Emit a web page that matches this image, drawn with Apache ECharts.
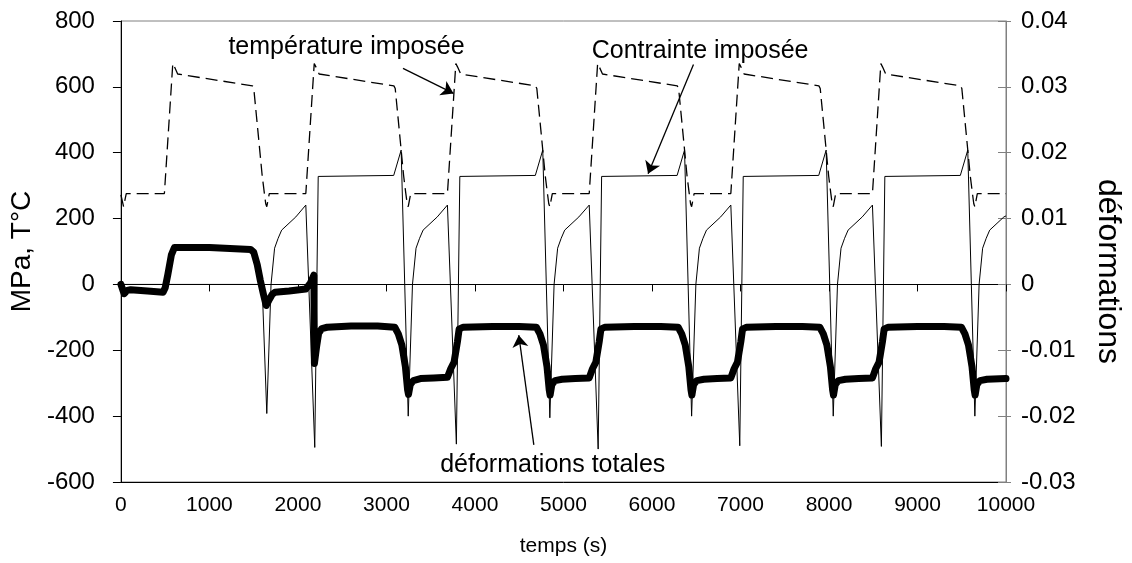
<!DOCTYPE html>
<html>
<head>
<meta charset="utf-8">
<script src="https://cdn.jsdelivr.net/npm/echarts@6/dist/echarts.min.js"></script>
<style>
  html, body { margin: 0; padding: 0; background: #fff; }
  #chart { width: 1132px; height: 563px; }
</style>
</head>
<body>
<div id="chart"></div>
<script>
// [temps (s), valeur]
const temperature = [
  [0, 272], [30, 236], [60, 276], [491, 276], [586, 671], [606, 660], [641, 639], [1486, 603], [1501, 595], [1546, 470], [1596, 330], [1621, 276], [1636, 245], [1648, 236], [1676, 276],
  [2089, 276], [2184, 671], [2204, 660], [2239, 639], [3084, 603], [3099, 595], [3144, 470], [3194, 330], [3219, 276], [3234, 245], [3246, 236], [3274, 276],
  [3689, 276], [3784, 671], [3804, 660], [3839, 639], [4684, 603], [4699, 595], [4744, 470], [4794, 330], [4819, 276], [4834, 245], [4846, 236], [4874, 276],
  [5291, 276], [5386, 671], [5406, 660], [5441, 639], [6286, 603], [6301, 595], [6346, 470], [6396, 330], [6421, 276], [6436, 245], [6448, 236], [6476, 276],
  [6891, 276], [6986, 671], [7006, 660], [7041, 639], [7886, 603], [7901, 595], [7946, 470], [7996, 330], [8021, 276], [8036, 245], [8048, 236], [8076, 276],
  [8491, 276], [8586, 671], [8606, 660], [8641, 639], [9486, 603], [9501, 595], [9546, 470], [9596, 330], [9621, 276], [9636, 245], [9648, 236], [9676, 276], [10000, 276]
];

const contrainte = [
  [0, 0], [1595, 0], [1648, -392], [1696, 0], [1736, 110], [1776, 140], [1816, 165], [1976, 205],
  [2089, 241], [2190, -495], [2229, 328], [3082, 331], [3166, 408], [3246, -400], [3294, 0], [3334, 110], [3374, 140], [3414, 165], [3574, 205],
  [3689, 241], [3790, -485], [3829, 328], [4682, 331], [4766, 408], [4846, -405], [4894, 0], [4934, 110], [4974, 140], [5014, 165], [5174, 205],
  [5291, 241], [5392, -500], [5431, 328], [6284, 331], [6368, 408], [6448, -400], [6496, 0], [6536, 110], [6576, 140], [6616, 165], [6776, 205],
  [6891, 241], [6992, -490], [7031, 328], [7884, 331], [7968, 408], [8048, -400], [8096, 0], [8136, 110], [8176, 140], [8216, 165], [8376, 205],
  [8491, 241], [8592, -492], [8631, 328], [9484, 331], [9568, 408], [9648, -400], [9696, 0], [9736, 110], [9776, 140], [9816, 165], [9976, 205], [10000, 208]
];

const deformation = [
  [0, 0], [20, -0.0008], [37, -0.0014], [70, -0.0009], [110, -0.0008], [300, -0.0010], [476, -0.0012], [500, -0.0005], [530, 0.0015], [570, 0.0045], [604, 0.0056],
  [1000, 0.0056], [1465, 0.0053], [1500, 0.0049], [1540, 0.0030], [1575, 0.0006], [1610, -0.0015], [1641, -0.0032], [1655, -0.0035], [1680, -0.0022], [1710, -0.0015],
  [1740, -0.0012], [1900, -0.0010], [2088, -0.0007], [2140, 0.0002], [2180, 0.0014], [2186, -0.0120], [2210, -0.0095], [2234, -0.0074], [2270, -0.0067], [2330, -0.0065],
  [2600, -0.0063], [2900, -0.0063],
  [3094, -0.0065], [3134, -0.0075], [3174, -0.0092], [3214, -0.0125], [3239, -0.0160], [3249, -0.0167], [3269, -0.0152], [3304, -0.0146], [3384, -0.0143], [3534, -0.0142], [3689, -0.0141],
  [3726, -0.0128], [3764, -0.0118], [3802, -0.0087], [3821, -0.0068], [3864, -0.0065], [4200, -0.0064], [4500, -0.0064],
  [4694, -0.0065], [4734, -0.0075], [4774, -0.0092], [4814, -0.0125], [4839, -0.0160], [4849, -0.0168], [4869, -0.0152], [4904, -0.0146], [4984, -0.0144], [5134, -0.0143], [5291, -0.0142],
  [5328, -0.0128], [5366, -0.0118], [5404, -0.0087], [5423, -0.0068], [5466, -0.0065], [5800, -0.0064], [6100, -0.0064],
  [6296, -0.0065], [6336, -0.0075], [6376, -0.0092], [6416, -0.0125], [6441, -0.0160], [6451, -0.0168], [6471, -0.0152], [6506, -0.0146], [6586, -0.0144], [6736, -0.0143], [6891, -0.0142],
  [6928, -0.0128], [6966, -0.0118], [7004, -0.0087], [7023, -0.0068], [7066, -0.0065], [7400, -0.0064], [7700, -0.0064],
  [7896, -0.0065], [7936, -0.0075], [7976, -0.0092], [8016, -0.0125], [8041, -0.0160], [8051, -0.0168], [8071, -0.0152], [8106, -0.0146], [8186, -0.0144], [8336, -0.0143], [8491, -0.0142],
  [8528, -0.0128], [8566, -0.0118], [8604, -0.0087], [8623, -0.0068], [8666, -0.0065], [9000, -0.0064], [9300, -0.0064],
  [9496, -0.0065], [9536, -0.0075], [9576, -0.0092], [9616, -0.0125], [9641, -0.0160], [9651, -0.0168], [9671, -0.0152], [9706, -0.0146], [9786, -0.0144], [10000, -0.0143]
];

const xRange = [0, 10000, 1000];
const leftRange = [-600, 800, 200];
const rightRange = [-0.03, 0.04, 0.01];

// textes et flèches, en coordonnées (temps, MPa)
const notes = [
  ['température imposée', 2549, 720],
  ['Contrainte imposée', 6544, 708],
  ['déformations totales', 4879, -548]
];
const arrows = [
  [3187, 656, 3758, 580],
  [6469, 668, 5956, 336],
  [4665, -487, 4495, -154]
];

const font = 'Arial, "Liberation Sans", sans-serif';

const chart = echarts.init(document.getElementById('chart'));
chart.setOption({
  animation: false,
  backgroundColor: '#fff',
  grid: { left: 110, right: 112, top: 21, bottom: 81, show: true, borderColor: '#808080', borderWidth: 1 },
  xAxis: [
    {
      type: 'value', min: xRange[0], max: xRange[1], interval: xRange[2], position: 'bottom',
      name: 'temps (s)', nameLocation: 'middle', nameGap: 54,
      nameTextStyle: { fontFamily: font, fontSize: 21, color: '#000' },
      axisLine: { onZero: false, lineStyle: { color: '#000', width: 1 } },
      axisTick: { show: false },
      axisLabel: { fontFamily: font, fontSize: 21, color: '#000', margin: 13, formatter: v => String(v) },
      splitLine: { show: false }
    },
    {
      // axe à zéro avec graduations
      type: 'value', min: xRange[0], max: xRange[1], interval: xRange[2], position: 'bottom',
      axisLine: { onZero: true, lineStyle: { color: '#000', width: 1 } },
      axisTick: { show: true, length: 7, lineStyle: { color: '#000' } },
      axisLabel: { show: false },
      splitLine: { show: false }
    }
  ],
  yAxis: [
    {
      type: 'value', min: leftRange[0], max: leftRange[1], interval: leftRange[2], position: 'left',
      name: 'MPa, T°C', nameLocation: 'middle', nameGap: 67, nameRotate: 90,
      nameTextStyle: { fontFamily: font, fontSize: 28, color: '#000' },
      axisLine: { show: true, onZero: false, lineStyle: { color: '#000', width: 1 } },
      axisTick: { show: true, length: 8, lineStyle: { color: '#000' } },
      axisLabel: { fontFamily: font, fontSize: 24, color: '#000', margin: 26 },
      splitLine: { show: false }
    },
    {
      type: 'value', min: rightRange[0], max: rightRange[1], interval: rightRange[2], position: 'right',
      name: 'déformations', nameLocation: 'middle', nameGap: 86, nameRotate: -90,
      nameTextStyle: { fontFamily: font, fontSize: 32, color: '#000', padding: [0, 0, 0, 40] },
      axisLine: { show: true, onZero: false, lineStyle: { color: '#808080', width: 1 } },
      axisTick: { show: true, length: 5, lineStyle: { color: '#808080' } },
      axisLabel: { fontFamily: font, fontSize: 24, color: '#000', margin: 15,
        formatter: v => String(+v.toFixed(2)) },
      splitLine: { show: false }
    },
    {
      // graduations intérieures de l'axe droit
      type: 'value', min: rightRange[0], max: rightRange[1], interval: rightRange[2], position: 'right',
      axisLine: { show: false, onZero: false },
      axisTick: { show: true, inside: true, length: 8, lineStyle: { color: '#808080' } },
      axisLabel: { show: false },
      splitLine: { show: false }
    }
  ],
  series: [
    {
      type: 'line', name: 'déformations totales', data: deformation, xAxisIndex: 0, yAxisIndex: 1,
      symbol: 'none', lineStyle: { color: '#000', width: 7, join: 'round', cap: 'round' }, z: 2
    },
    {
      type: 'line', name: 'température imposée', data: temperature, xAxisIndex: 0, yAxisIndex: 0,
      symbol: 'none', lineStyle: { color: '#000', width: 1.3, type: [12, 6] }, z: 3
    },
    {
      type: 'line', name: 'Contrainte imposée', data: contrainte, xAxisIndex: 0, yAxisIndex: 0,
      symbol: 'none', lineStyle: { color: '#000', width: 1 }, z: 3,
      markLine: {
        silent: true, symbol: ['none', 'arrow'], symbolSize: 12,
        lineStyle: { color: '#000', width: 1.3, type: 'solid' },
        label: { show: false },
        data: arrows.map(a => [{ coord: [a[0], a[1]] }, { coord: [a[2], a[3]] }])
      },
      markPoint: {
        silent: true, symbol: 'circle', symbolSize: 0,
        label: { show: true, position: 'inside', formatter: '{b}', fontFamily: font, fontSize: 25, color: '#000' },
        data: notes.map(n => ({ name: n[0], coord: [n[1], n[2]] }))
      }
    }
  ]
});
</script>
</body>
</html>
